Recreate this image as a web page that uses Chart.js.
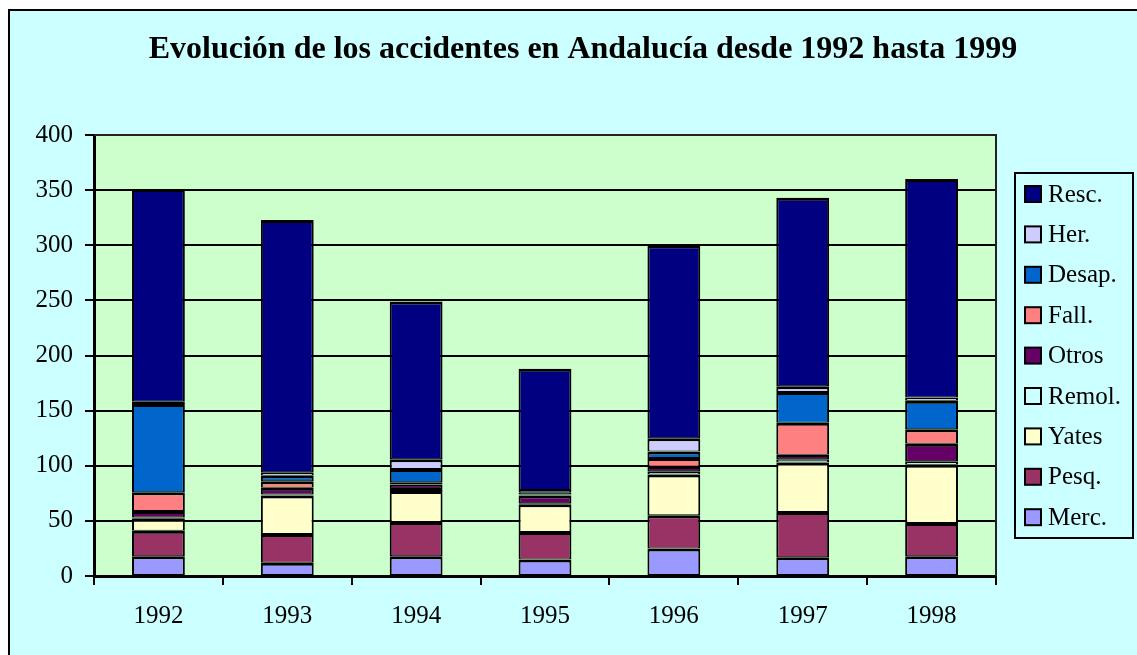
<!DOCTYPE html>
<html>
<head>
<meta charset="utf-8">
<script src="https://cdn.jsdelivr.net/npm/chart.js@4"></script>
<style>
  html, body { margin: 0; padding: 0; background: #fff; overflow: hidden; }
  #frame {
    position: absolute; left: 8px; top: 9px;
    width: 1200px; height: 700px;
    border: 2px solid #000; background: #ccffff;
  }
  #chart { position: absolute; left: 0; top: 0; }
</style>
</head>
<body>
<div id="frame"></div>
<canvas id="chart" width="1137" height="655"></canvas>
<script>
// Accidentes por tipo y año (stacked bottom to top)
const years = ['1992', '1993', '1994', '1995', '1996', '1997', '1998'];
const merc  = [18, 12, 18, 15, 25, 17, 18];
const pesq  = [23, 26, 31, 25, 30, 41, 30];
const yates = [11, 35, 28, 25, 37, 45, 53];
const remol = [1, 1, 2, 1, 3, 3, 3];
const otros = [6, 6, 4, 7, 4, 4, 16];
const fall  = [17, 6, 2, 1, 8, 29, 13];
const desap = [80, 5, 12, 2, 6, 28, 26];
const her   = [2, 3, 9, 2, 12, 5, 3];
const resc  = [193, 229, 143, 110, 175, 171, 198];
const yTicks = [0, 50, 100, 150, 200, 250, 300, 350, 400];

const titleText = 'Evolución de los accidentes en Andalucía desde 1992 hasta 1999';
const serif = "'Liberation Serif', 'Times New Roman', serif";

function series(label, data, color) {
    return {
        label: label,
        data: data,
        backgroundColor: color,
        borderColor: '#000',
        borderWidth: { top: 3, left: 2, right: 2, bottom: 1 },
        borderSkipped: false,
        inflateAmount: 0
    };
}

// plot area background + frame
const plotBg = {
    id: 'plotBg',
    beforeDraw(chart) {
        const a = chart.chartArea, ctx = chart.ctx;
        ctx.save();
        ctx.fillStyle = '#ccffcc';
        ctx.fillRect(a.left, a.top, a.right - a.left, a.bottom - a.top);
        ctx.restore();
    },
    afterDraw(chart) {
        const a = chart.chartArea, ctx = chart.ctx;
        ctx.save();
        ctx.strokeStyle = '#222';
        ctx.lineWidth = 2;
        ctx.beginPath();
        ctx.moveTo(a.left, a.top);
        ctx.lineTo(a.right, a.top);
        ctx.lineTo(a.right, a.bottom);
        ctx.stroke();
        ctx.restore();
    }
};

// title and boxed legend, Excel style
const decorations = {
    id: 'decorations',
    afterDraw(chart) {
        const ctx = chart.ctx;
        ctx.save();
        ctx.fillStyle = '#000';
        ctx.font = 'bold 32px ' + serif;
        ctx.textAlign = 'center';
        ctx.textBaseline = 'middle';
        ctx.fillText(titleText, 583, 50);

        // legend box
        ctx.strokeStyle = '#000';
        ctx.lineWidth = 2;
        ctx.strokeRect(1015, 173, 118, 365);
        ctx.font = '25px ' + serif;
        ctx.textAlign = 'left';
        const sets = chart.data.datasets;
        for (let r = 0; r < sets.length; r++) {
            const ds = sets[sets.length - 1 - r];
            const cy = 194 + r * 40.4;
            ctx.fillStyle = ds.backgroundColor;
            ctx.fillRect(1025, cy - 8, 16, 16);
            ctx.strokeRect(1025, cy - 8, 16, 16);
            ctx.fillStyle = '#000';
            ctx.fillText(ds.label, 1048, cy + 1);
        }
        ctx.restore();
    }
};

const ctx = document.getElementById('chart').getContext('2d');
const chart = new Chart(ctx, {
    type: 'bar',
    data: {
        labels: years,
        datasets: [
            series('Merc.', merc, '#9999ff'),
            series('Pesq.', pesq, '#993366'),
            series('Yates', yates, '#ffffcc'),
            series('Remol.', remol, '#ccffff'),
            series('Otros', otros, '#660066'),
            series('Fall.', fall, '#ff8080'),
            series('Desap.', desap, '#0066cc'),
            series('Her.', her, '#ccccff'),
            series('Resc.', resc, '#000080')
        ]
    },
    options: {
        responsive: false,
        animation: false,
        devicePixelRatio: 1,
        layout: { padding: { left: 0, top: 135, right: 141, bottom: 0 } },
        datasets: { bar: { categoryPercentage: 1, barPercentage: 0.41 } },
        plugins: {
            legend: { display: false },
            title: { display: false },
            tooltip: { enabled: false }
        },
        scales: {
            x: {
                stacked: true,
                offset: true,
                afterFit: (scale) => { scale.height = 79; },
                grid: {
                    offset: true,
                    drawOnChartArea: false,
                    color: '#000',
                    lineWidth: 2,
                    tickLength: 9
                },
                border: { color: '#000', width: 3 },
                ticks: {
                    color: '#000',
                    padding: 16,
                    font: { family: serif, size: 25 }
                }
            },
            y: {
                stacked: true,
                min: 0,
                max: 400,
                afterFit: (scale) => { scale.width = 94; },
                afterBuildTicks: (scale) => { scale.ticks = yTicks.map(v => ({ value: v })); },
                grid: { color: '#000', lineWidth: 2, tickLength: 9 },
                border: { color: '#000', width: 3 },
                ticks: {
                    color: '#000',
                    padding: 12,
                    font: { family: serif, size: 25 }
                }
            }
        }
    },
    plugins: [plotBg, decorations]
});
</script>
</body>
</html>
